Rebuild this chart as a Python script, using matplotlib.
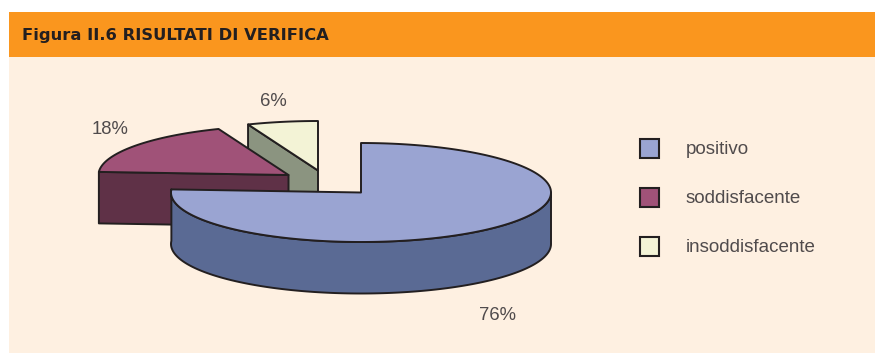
import numpy as np
import matplotlib
matplotlib.use("Agg")
import matplotlib.pyplot as plt
from matplotlib.patches import Polygon, Rectangle

categories = ['positivo', 'soddisfacente', 'insoddisfacente']
shares = [76, 18, 6]
share_labels = ['76%', '18%', '6%']
title = 'Figura II.6 RISULTATI DI VERIFICA'

top_colors = ['#9AA4D2', '#A05278', '#F3F3D6']
cream = '#FEF0E1'
orange = '#FA961E'
ink = '#231F20'
grey_text = '#504B4C'

# pie geometry, in pixels
rx, ry, depth = 190, 49.5, 51.5
centers = [(361, 192.5), (288.5, 175), (318, 170.5)]


def rim(cx, cy, a0, a1, n=200):
    a = np.radians(np.linspace(a0, a1, n))
    return np.column_stack([cx + rx * np.cos(a), cy - ry * np.sin(a)])


def top_face(i, a0, a1):
    cx, cy = centers[i]
    return Polygon(np.vstack([[cx, cy], rim(cx, cy, a0, a1)]), closed=True,
                   fc=top_colors[i], ec=ink, lw=1.4, joinstyle='round')


def side(pts, color):
    pts = np.asarray(pts, dtype=float)
    low = pts + np.array([0, depth])
    return Polygon(np.vstack([pts, low[::-1]]), closed=True,
                   fc=color, ec=ink, lw=1.4, joinstyle='round')


# slice angles run clockwise from 12 o'clock
ends = 90 - np.cumsum(shares) * 3.6
starts = np.concatenate([[90], ends[:-1]])

fig = plt.figure(figsize=(8.75, 3.53), dpi=100, facecolor='white')
ax = fig.add_axes([0, 0, 1, 1])
ax.set_xlim(0, 875)
ax.set_ylim(353, 0)
ax.axis('off')

ax.add_patch(Rectangle((9, 12), 866, 341, fc=cream, ec='none'))
ax.add_patch(Rectangle((9, 12), 866, 45, fc=orange, ec='none'))
ax.text(22.5, 35.5, title, fontsize=11.8, fontweight='bold', family='DejaVu Sans',
        color=ink, va='center', ha='left')

# third slice, at the back
cx, cy = centers[2]
edge = rim(cx, cy, starts[2] + 360, starts[2] + 360, 1)[0]
ax.add_patch(side([(cx, cy), edge], '#8B9480'))
ax.add_patch(top_face(2, ends[2] + 360, starts[2] + 360))

# second slice
cx, cy = centers[1]
edge = rim(cx, cy, starts[1] + 360, starts[1] + 360, 1)[0]
ax.add_patch(side([(cx, cy), edge], '#5F3147'))
ax.add_patch(top_face(1, ends[1] + 360, starts[1] + 360))

# big slice in front, wall along the near half of the rim
cx, cy = centers[0]
wall = rim(cx, cy, 180, 360)
ax.add_patch(side(np.vstack([rim(cx, cy, ends[0] + 360, 180, 5), wall]), '#5A6A94'))
ax.add_patch(top_face(0, ends[0], starts[0]))

label_pos = [(497, 315), (110, 130), (273, 101)]
for (x, y), s in zip(label_pos, share_labels):
    ax.text(x, y, s, fontsize=13.3, family='Liberation Sans', color=grey_text,
            ha='center', va='center')

legend_y = [148, 197.5, 246.5]
for y, name, c in zip(legend_y, categories, top_colors):
    ax.add_patch(Rectangle((639.5, y - 9.5), 19, 19, fc=c, ec=ink, lw=1.5))
    ax.text(686, y + 1, name, fontsize=13.5, family='Liberation Sans',
            color=grey_text, ha='left', va='center')

fig.savefig('out.png', dpi=100)
